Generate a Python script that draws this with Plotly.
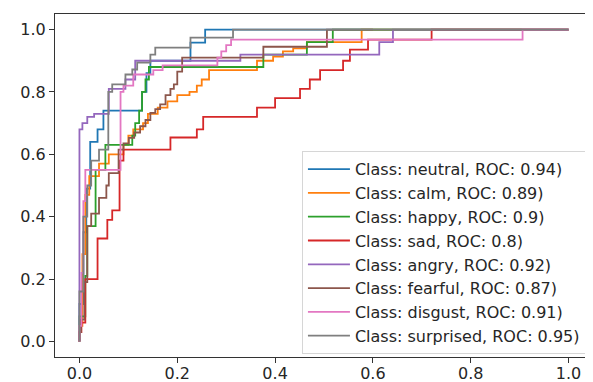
import plotly.graph_objects as go

# ROC curve vertices (false positive rate, true positive rate)
FPR_NEUTRAL = [0, 0, 0.008, 0.008, 0.014, 0.014, 0.022, 0.022, 0.037, 0.037, 0.049, 0.049, 0.128, 0.128, 0.137, 0.137, 0.145, 0.145, 0.227, 0.227, 0.257, 0.257, 1]
TPR_NEUTRAL = [0, 0.12, 0.12, 0.35, 0.35, 0.49, 0.49, 0.64, 0.64, 0.68, 0.68, 0.74, 0.74, 0.80, 0.80, 0.86, 0.86, 0.90, 0.90, 0.958, 0.958, 1, 1]

FPR_CALM = [0, 0, 0.006, 0.006, 0.012, 0.012, 0.02, 0.02, 0.04, 0.04, 0.06, 0.06, 0.09, 0.09, 0.10, 0.10, 0.11, 0.11, 0.13, 0.13, 0.14, 0.14, 0.16, 0.16, 0.18, 0.18, 0.20, 0.20, 0.225, 0.225, 0.24, 0.24, 0.25, 0.25, 0.265, 0.265, 0.363, 0.363, 0.396, 0.396, 0.416, 0.416, 0.437, 0.437, 0.465, 0.465, 0.577, 0.577, 1]
TPR_CALM = [0, 0.05, 0.05, 0.28, 0.28, 0.47, 0.47, 0.53, 0.53, 0.57, 0.57, 0.60, 0.60, 0.63, 0.63, 0.66, 0.66, 0.68, 0.68, 0.70, 0.70, 0.73, 0.73, 0.75, 0.75, 0.77, 0.77, 0.79, 0.79, 0.80, 0.80, 0.82, 0.82, 0.84, 0.84, 0.87, 0.87, 0.90, 0.90, 0.913, 0.913, 0.93, 0.93, 0.94, 0.94, 0.96, 0.96, 1, 1]

FPR_HAPPY = [0, 0, 0.012, 0.012, 0.016, 0.016, 0.033, 0.033, 0.053, 0.053, 0.108, 0.108, 0.114, 0.114, 0.122, 0.122, 0.128, 0.128, 0.135, 0.135, 0.142, 0.142, 0.376, 0.376, 0.465, 0.465, 0.518, 0.518, 1]
TPR_HAPPY = [0, 0.08, 0.08, 0.21, 0.21, 0.37, 0.37, 0.55, 0.55, 0.63, 0.63, 0.66, 0.66, 0.70, 0.70, 0.74, 0.74, 0.80, 0.80, 0.84, 0.84, 0.88, 0.88, 0.92, 0.92, 0.96, 0.96, 1, 1]

FPR_SAD = [0, 0, 0.004, 0.004, 0.012, 0.012, 0.037, 0.037, 0.057, 0.057, 0.067, 0.067, 0.082, 0.082, 0.09, 0.09, 0.186, 0.186, 0.24, 0.24, 0.253, 0.253, 0.363, 0.363, 0.40, 0.40, 0.451, 0.451, 0.471, 0.471, 0.492, 0.492, 0.539, 0.539, 0.553, 0.553, 0.59, 0.59, 0.72, 0.72, 1]
TPR_SAD = [0, 0.03, 0.03, 0.06, 0.06, 0.20, 0.20, 0.33, 0.33, 0.39, 0.39, 0.42, 0.42, 0.58, 0.58, 0.615, 0.615, 0.654, 0.654, 0.68, 0.68, 0.72, 0.72, 0.75, 0.75, 0.78, 0.78, 0.81, 0.81, 0.84, 0.84, 0.87, 0.87, 0.90, 0.90, 0.936, 0.936, 0.968, 0.968, 1, 1]

FPR_ANGRY = [0, 0, 0.006, 0.006, 0.016, 0.016, 0.03, 0.03, 0.06, 0.06, 0.094, 0.094, 0.114, 0.114, 0.329, 0.329, 0.613, 0.613, 0.641, 0.641, 1]
TPR_ANGRY = [0, 0.68, 0.68, 0.70, 0.70, 0.72, 0.72, 0.73, 0.73, 0.81, 0.81, 0.84, 0.84, 0.90, 0.90, 0.92, 0.92, 0.96, 0.96, 1, 1]

FPR_FEARFUL = [0, 0, 0.003, 0.003, 0.01, 0.01, 0.016, 0.016, 0.024, 0.024, 0.04, 0.04, 0.055, 0.055, 0.06, 0.06, 0.08, 0.08, 0.09, 0.09, 0.101, 0.101, 0.112, 0.112, 0.124, 0.124, 0.135, 0.135, 0.145, 0.145, 0.155, 0.155, 0.165, 0.165, 0.176, 0.176, 0.186, 0.186, 0.193, 0.193, 0.20, 0.20, 0.21, 0.21, 0.376, 0.376, 0.506, 0.506, 0.60, 0.60, 1]
TPR_FEARFUL = [0, 0.03, 0.03, 0.07, 0.07, 0.19, 0.19, 0.37, 0.37, 0.41, 0.41, 0.46, 0.46, 0.50, 0.50, 0.54, 0.54, 0.615, 0.615, 0.635, 0.635, 0.653, 0.653, 0.67, 0.67, 0.69, 0.69, 0.71, 0.71, 0.733, 0.733, 0.745, 0.745, 0.76, 0.76, 0.79, 0.79, 0.81, 0.81, 0.824, 0.824, 0.865, 0.865, 0.91, 0.91, 0.945, 0.945, 1, 1]

FPR_DISGUST = [0, 0, 0.004, 0.004, 0.008, 0.008, 0.012, 0.012, 0.084, 0.084, 0.09, 0.09, 0.11, 0.11, 0.151, 0.151, 0.17, 0.17, 0.282, 0.282, 0.29, 0.29, 0.30, 0.30, 0.31, 0.31, 0.906, 0.906, 1]
TPR_DISGUST = [0, 0.05, 0.05, 0.22, 0.22, 0.45, 0.45, 0.55, 0.55, 0.80, 0.80, 0.82, 0.82, 0.856, 0.856, 0.87, 0.87, 0.885, 0.885, 0.91, 0.91, 0.93, 0.93, 0.95, 0.95, 0.968, 0.968, 1, 1]

FPR_SURPRISED = [0, 0, 0.008, 0.008, 0.016, 0.016, 0.024, 0.024, 0.04, 0.04, 0.059, 0.059, 0.067, 0.067, 0.094, 0.094, 0.108, 0.108, 0.118, 0.118, 0.145, 0.145, 0.155, 0.155, 0.227, 0.227, 0.314, 0.314, 1]
TPR_SURPRISED = [0, 0.16, 0.16, 0.40, 0.40, 0.50, 0.50, 0.58, 0.58, 0.615, 0.615, 0.80, 0.80, 0.824, 0.824, 0.856, 0.856, 0.872, 0.872, 0.894, 0.894, 0.92, 0.92, 0.942, 0.942, 0.974, 0.974, 1, 1]

CLASSES = ["neutral", "calm", "happy", "sad", "angry", "fearful", "disgust", "surprised"]
AUC = ["0.94", "0.89", "0.9", "0.8", "0.92", "0.87", "0.91", "0.95"]
COLORS = ["#1f77b4", "#ff7f0e", "#2ca02c", "#d62728", "#9467bd", "#8c564b", "#e377c2", "#7f7f7f"]
FPRS = [FPR_NEUTRAL, FPR_CALM, FPR_HAPPY, FPR_SAD, FPR_ANGRY, FPR_FEARFUL, FPR_DISGUST, FPR_SURPRISED]
TPRS = [TPR_NEUTRAL, TPR_CALM, TPR_HAPPY, TPR_SAD, TPR_ANGRY, TPR_FEARFUL, TPR_DISGUST, TPR_SURPRISED]
TICKS = [0.0, 0.2, 0.4, 0.6, 0.8, 1.0]

FONT = "DejaVu Sans"
TXT = "#262626"

fig = go.Figure()
for i, name in enumerate(CLASSES):
    fig.add_trace(go.Scatter(
        x=FPRS[i], y=TPRS[i], mode="lines",
        line=dict(color=COLORS[i], width=1.8),
        name=f"Class: {name}, ROC: {AUC[i]})",
        legendgroup=name,
    ))

axis_common = dict(
    range=[-0.05, 1.05], tickvals=TICKS, tickformat=".1f",
    showgrid=False, zeroline=False, showline=True, linecolor="#333333", linewidth=1,
    ticks="outside", ticklen=5, tickwidth=1, tickcolor="#333333",
    tickfont=dict(family=FONT, size=16, color=TXT), automargin=False,
)
fig.update_xaxes(**axis_common, mirror=True, ticklabelstandoff=-3)
fig.update_yaxes(**axis_common, mirror=False)

# the page body adds an 8px offset, so margins compensate for it
fig.update_layout(
    width=593, height=382,
    margin=dict(l=47, r=8, t=6, b=33, pad=0),
    plot_bgcolor="white", paper_bgcolor="white",
    font=dict(family=FONT, size=16, color=TXT),
    legend=dict(
        x=0.459, y=0.600, xanchor="left", yanchor="top",
        bgcolor="white", bordercolor="#d6d6d6", borderwidth=1,
        font=dict(family=FONT, size=16, color=TXT),
        tracegroupgap=1.4, traceorder="normal", itemwidth=42,
    ),
    showlegend=True,
)

fig.write_html("out.html")
